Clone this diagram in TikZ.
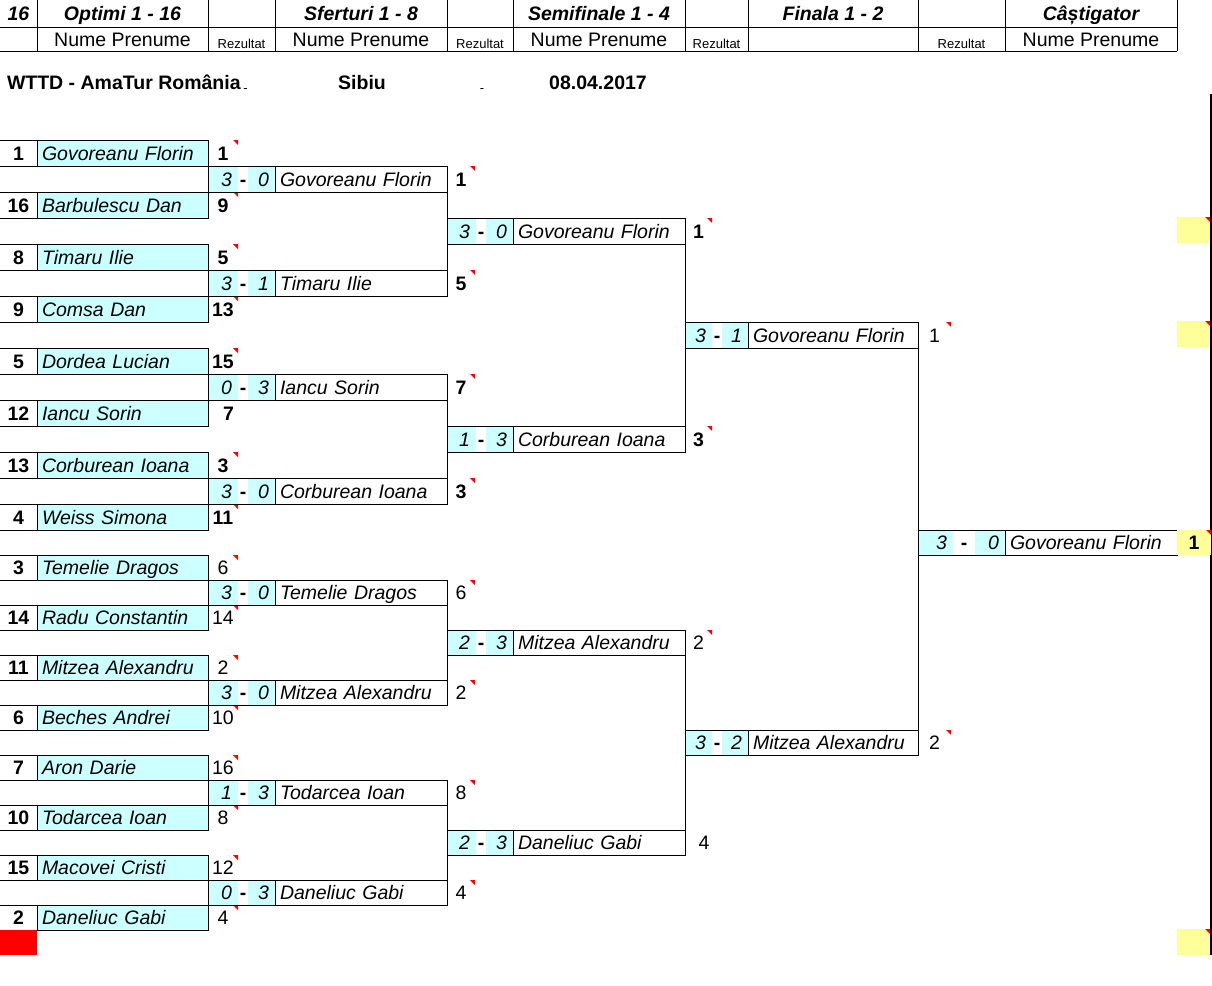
\documentclass[tikz,border=0pt]{standalone}
\usepackage{fontspec}
\setmainfont{Liberation Sans}
\usetikzlibrary{positioning}

\definecolor{lightcyan}{HTML}{CCFFFF}
\definecolor{lightyellow}{HTML}{FFFF99}

\begin{document}
\begin{tikzpicture}[x=1pt,y=-1pt,line width=1pt,
	cell/.style={inner sep=0pt,outer sep=0pt,text height=14pt,text depth=0pt,font=\fontsize{19.5}{22}\selectfont},
	seed/.style={cell,minimum width=37pt,font=\fontsize{19.5}{22}\selectfont\bfseries},
	player/.style={cell,draw,fill=lightcyan,text width=#1,inner xsep=5pt,align=left,font=\fontsize{19.5}{22}\selectfont\itshape},
	winner/.style={cell,draw,text width=#1,inner xsep=5pt,align=left,font=\fontsize{19.5}{22}\selectfont\itshape},
	score/.style={cell,fill=lightcyan,text width=#1,inner xsep=6pt,align=right,font=\fontsize{19.5}{22}\selectfont\itshape},
	hyphen/.style={cell,minimum width=#1,font=\fontsize{19.5}{22}\selectfont\bfseries},
	result/.style={cell,minimum width=#1},
	head/.style={cell,font=\fontsize{19.5}{22}\selectfont\bfseries\itshape},
	small/.style={cell,font=\fontsize{13}{15}\selectfont},
	title/.style={cell,font=\fontsize{19.5}{22}\selectfont\bfseries}]

	\useasboundingbox (0,0) rectangle (1212,985);

	% header
	\draw (0,27) -- (1177,27) (0,51) -- (1177,51);
	\foreach \x in {37,208,275,447,513,685,748,918,1005,1177}
		\draw (\x,0) -- (\x,51);
	\node[head] (h0) at (18.5,13.5) {16};
	\foreach \x/\t [count=\k] in {122.5/Optimi 1 - 16,361/Sferturi 1 - 8,599/Semifinale 1 - 4,833/Finala 1 - 2,1091/Câștigator}
		\node[head] (h\k) at (\x,13.5) {\t};
	\foreach \x [count=\k] in {122.5,361,599,1091}
		\node[cell] (np\k) at (\x,39) {Nume Prenume};
	\foreach \x [count=\k] in {241.5,480,716.5,961.5}
		\node[small] (rz\k) at (\x,41) {Rezultat};

	\node[title,anchor=west] (club) at (7,82) {WTTD - AmaTur România};
	\node[small] (sep1) at (245.5,85) {-};
	\node[title] (city) at (362,82) {Sibiu};
	\node[small] (sep2) at (482,85) {-};
	\node[title] (date) at (598,82) {08.04.2017};
	\draw[line width=2pt] (1210.5,94) -- (1210.5,955);

	% optimi
	\foreach \n/\s/\name/\res/\yt/\h in {1/1/Govoreanu Florin/1/140/26pt,2/16/Barbulescu Dan/9/192/26pt,
		3/8/Timaru Ilie/5/244/26pt,4/9/Comsa Dan/13/296/26pt,5/5/Dordea Lucian/15/348/26pt,
		6/12/Iancu Sorin/{\phantom{0}7}/400/26pt,7/13/Corburean Ioana/3/452/26pt,8/4/Weiss Simona/11/504/26pt,
		9/3/Temelie Dragos/6/555/25pt,10/14/Radu Constantin/14/605/25pt,11/11/Mitzea Alexandru/2/655/25pt,
		12/6/Beches Andrei/10/705/25pt,13/7/Aron Darie/16/755/25pt,14/10/Todarcea Ioan/8/805/25pt,
		15/15/Macovei Cristi/12/855/25pt,16/2/Daneliuc Gabi/4/905/25pt}{
		\node[seed,minimum height=\h,anchor=north west] (s\n) at (0,\yt) {\s};
		\node[player=161pt,minimum height=\h,right=0pt of s\n] (p\n) {\name};
		\node[result=30pt,minimum height=\h,right=0pt of p\n] (r\n) {\ifnum\n<9 \bfseries\fi\res};
		\draw (s\n.north west) -- (s\n.north east) (s\n.south west) -- (s\n.south east);
		\ifnum\n=6 \else \fill[red] (r\n.north east) -- ++(-5,0) -- ++(5,5) -- cycle; \fi
	}

	% sferturi
	\foreach \n/\a/\b/\name/\res/\yt/\h in {1/3/0/Govoreanu Florin/1/166/26pt,2/3/1/Timaru Ilie/5/270/26pt,
		3/0/3/Iancu Sorin/7/374/26pt,4/3/0/Corburean Ioana/3/478/26pt,5/3/0/Temelie Dragos/6/580/25pt,
		6/3/0/Mitzea Alexandru/2/680/25pt,7/1/3/Todarcea Ioan/8/780/25pt,8/0/3/Daneliuc Gabi/4/880/25pt}{
		\node[score=18pt,minimum height=\h,anchor=north west] (sfa\n) at (208,\yt) {\a};
		\node[hyphen=10pt,minimum height=\h,right=0pt of sfa\n] (sfd\n) {-};
		\node[score=15pt,minimum height=\h,right=0pt of sfd\n] (sfb\n) {\b};
		\node[winner=162pt,minimum height=\h,right=0pt of sfb\n] (sfw\n) {\name};
		\node[result=28pt,minimum height=\h,right=0pt of sfw\n] (sfr\n) {\ifnum\n<5 \bfseries\fi\res};
		\draw (sfa\n.north west) -- (sfw\n.north west) (sfa\n.south west) -- (sfw\n.south west);
		\fill[red] (sfr\n.north east) -- ++(-5,0) -- ++(5,5) -- cycle;
	}

	% semifinale
	\foreach \n/\a/\b/\name/\res/\yt/\h in {1/3/0/Govoreanu Florin/1/218/26pt,2/1/3/Corburean Ioana/3/426/26pt,
		3/2/3/Mitzea Alexandru/2/630/25pt,4/2/3/Daneliuc Gabi/{\phantom{0}4}/830/25pt}{
		\node[score=17pt,minimum height=\h,anchor=north west] (sea\n) at (447,\yt) {\a};
		\node[hyphen=10pt,minimum height=\h,right=0pt of sea\n] (sed\n) {-};
		\node[score=15pt,minimum height=\h,right=0pt of sed\n] (seb\n) {\b};
		\node[winner=162pt,minimum height=\h,right=0pt of seb\n] (sew\n) {\name};
		\node[result=27pt,minimum height=\h,right=0pt of sew\n] (ser\n) {\ifnum\n<3 \bfseries\fi\res};
		\draw (sea\n.north west) -- (sew\n.north west) (sea\n.south west) -- (sew\n.south west);
		\ifnum\n=4 \else \fill[red] (ser\n.north east) -- ++(-5,0) -- ++(5,5) -- cycle; \fi
	}

	% finala
	\foreach \n/\a/\b/\name/\res/\yt/\h in {1/3/1/Govoreanu Florin/1/322/26pt,2/3/2/Mitzea Alexandru/2/730/25pt}{
		\node[score=15pt,minimum height=\h,anchor=north west] (fna\n) at (685,\yt) {\a};
		\node[hyphen=10pt,minimum height=\h,right=0pt of fna\n] (fnd\n) {-};
		\node[score=14pt,minimum height=\h,right=0pt of fnd\n] (fnb\n) {\b};
		\node[winner=160pt,minimum height=\h,right=0pt of fnb\n] (fnw\n) {\name};
		\node[result=33pt,minimum height=\h,right=0pt of fnw\n] (fnr\n) {\res};
		\draw (fna\n.north west) -- (fnw\n.north west) (fna\n.south west) -- (fnw\n.south west);
		\fill[red] (fnr\n.north east) -- ++(-5,0) -- ++(5,5) -- cycle;
	}

	% castigator
	\node[score=23pt,minimum height=25pt,anchor=north west] (csa) at (918,530) {3};
	\node[hyphen=22pt,minimum height=25pt,right=0pt of csa] (csd) {-};
	\node[score=18pt,minimum height=25pt,right=0pt of csd] (csb) {0};
	\node[winner=162pt,minimum height=25pt,right=0pt of csb] (csw) {Govoreanu Florin};
	\node[result=34pt,minimum height=25pt,fill=lightyellow,right=0pt of csw] (csr) {\bfseries 1};
	\draw (csa.north west) -- (csw.north west) (csa.south west) -- (csw.south west);
	\fill[red] (csr.north east) -- ++(-5,0) -- ++(5,5) -- cycle;

	% bracket lines
	\foreach \i/\j in {1/2,3/4,5/6,7/8,9/10,11/12,13/14,15/16}
		\draw (p\i.north east) -- (p\j.south east);
	\foreach \i/\j in {1/2,3/4,5/6,7/8}
		\draw (sfw\i.north east) -- (sfw\j.south east);
	\foreach \i/\j in {1/2,3/4}
		\draw (sew\i.north east) -- (sew\j.south east);
	\draw (fnw1.north east) -- (fnw2.south east);

	% side cells
	\foreach \n/\yt in {1/217,2/321,3/929}{
		\node[cell,fill=lightyellow,minimum width=33pt,minimum height=26pt,anchor=north west] (y\n) at (1177,\yt) {};
		\fill[red] (y\n.north east) -- ++(-5,0) -- ++(5,5) -- cycle;
	}
	\node[cell,fill=red,minimum width=37pt,minimum height=25pt,anchor=north west] (alert) at (0,930) {};

\end{tikzpicture}
\end{document}
